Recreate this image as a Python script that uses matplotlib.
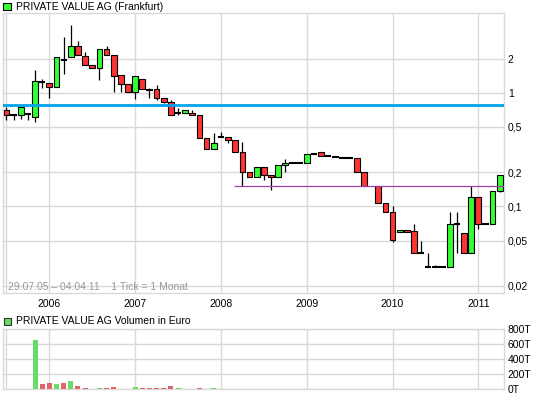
import numpy as np
import pandas as pd
import matplotlib
matplotlib.use("Agg")
import matplotlib.pyplot as plt
from matplotlib.patches import Rectangle
from matplotlib.ticker import NullLocator

plt.rcParams['font.family'] = ['Liberation Sans', 'DejaVu Sans']

# monthly candles, Jul 2005 .. Apr 2011 (Oct 2009 without trades)
months = pd.period_range("2005-07", "2011-04", freq="M")

opens = [0.711, 0.635, 0.639, 0.655, 0.613, 1.25, 1.226, 1.13, 2.0, 2.05,
         2.58, 2.10, 1.77, 1.66, 2.45, 2.14, 1.42, 1.20, 1.02, 1.33,
         1.05, 1.08, 0.90, 0.833, 0.66, 0.669, 0.665, 0.64, 0.40, 0.319,
         0.405, 0.408, 0.384, 0.30, 0.20, 0.181, 0.221, 0.188, 0.181, 0.231,
         0.243, 0.243, 0.243, 0.29, 0.30, 0.279, 0.27, 0.266, 0.266, 0.266,
         0.20, np.nan, 0.15, 0.108, 0.0885, 0.060, 0.0626, 0.0604, 0.0392, 0.0292,
         0.0292, 0.0292, 0.0292, 0.0693, 0.0589, 0.0392, 0.12, 0.0693, 0.0693, 0.1375]
highs = [0.752, 0.640, 0.770, 0.660, 1.575, 1.31, 1.23, 2.08, 3.07, 3.94,
         2.85, 2.30, 1.77, 2.45, 2.58, 2.14, 1.42, 1.20, 1.39, 1.33,
         1.11, 1.18, 0.90, 0.87, 0.737, 0.707, 0.71, 0.64, 0.40, 0.442,
         0.45, 0.408, 0.384, 0.365, 0.20, 0.221, 0.221, 0.188, 0.231, 0.26,
         0.243, 0.243, 0.29, 0.29, 0.30, 0.279, 0.27, 0.266, 0.266, 0.266,
         0.20, np.nan, 0.15, 0.108, 0.10, 0.0626, 0.0626, 0.0695, 0.0496, 0.039,
         0.0305, 0.0292, 0.0885, 0.0885, 0.0589, 0.15, 0.12, 0.071, 0.1375, 0.188]
lows = [0.580, 0.580, 0.589, 0.570, 0.549, 1.09, 0.89, 1.13, 1.45, 2.05,
        2.14, 1.77, 1.66, 1.29, 2.14, 1.01, 1.01, 1.02, 0.885, 1.07,
        0.90, 0.855, 0.82, 0.639, 0.634, 0.669, 0.64, 0.40, 0.319, 0.319,
        0.405, 0.361, 0.30, 0.151, 0.181, 0.181, 0.171, 0.138, 0.181, 0.20,
        0.243, 0.243, 0.243, 0.29, 0.279, 0.279, 0.27, 0.266, 0.266, 0.20,
        0.15, np.nan, 0.108, 0.0885, 0.049, 0.060, 0.060, 0.0392, 0.0392, 0.0292,
        0.0292, 0.0292, 0.0292, 0.039, 0.0392, 0.0392, 0.0634, 0.0693, 0.0693, 0.133]
closes = [0.639, 0.635, 0.752, 0.655, 1.26, 1.25, 1.13, 2.08, 1.94, 2.58,
          2.14, 1.77, 1.66, 2.45, 2.14, 1.41, 1.20, 1.02, 1.39, 1.07,
          1.05, 0.90, 0.833, 0.639, 0.66, 0.707, 0.64, 0.40, 0.319, 0.361,
          0.405, 0.386, 0.30, 0.20, 0.181, 0.221, 0.189, 0.181, 0.231, 0.243,
          0.243, 0.243, 0.29, 0.29, 0.279, 0.279, 0.27, 0.266, 0.266, 0.20,
          0.15, np.nan, 0.108, 0.0885, 0.0503, 0.0626, 0.060, 0.0392, 0.0392, 0.0292,
          0.0292, 0.0292, 0.0693, 0.0693, 0.0392, 0.120, 0.0693, 0.0693, 0.1375, 0.188]
# volume in thousand euro
volumes = [0, 0, 0, 0, 657, 75, 88, 75, 88, 115,
           44, 18, 0, 18, 18, 35, 0, 0, 31, 18,
           18, 18, 18, 48, 18, 0, 0, 18, 0, 18] + [0] * 40

resistance = 0.783
support = 0.150
price_ticks = [0.02, 0.05, 0.1, 0.2, 0.5, 1, 2]
price_labels = ["0,02", "0,05", "0,1", "0,2", "0,5", "1", "2"]
vol_ticks = [0, 200, 400, 600, 800]
vol_labels = ["0T", "200T", "400T", "600T", "800T"]

GREEN = "#33ff33"
RED = "#ff3333"
VGREEN = "#66dd66"
VRED = "#dd6666"
GRID = "#d9d9d9"

W, H = 545, 398
x = np.arange(len(months))
year_pos = [i for i, m in enumerate(months) if m.month == 1]
year_lab = [str(months[i].year) for i in year_pos]
xlim = (-0.52, 69.55)


def style_axes(ax):
    ax.set_xlim(*xlim)
    ax.set_xticks(year_pos)
    ax.yaxis.tick_right()
    ax.tick_params(length=0, labelsize=7.5, pad=3)
    ax.grid(True, color=GRID, lw=1.0)
    ax.axvline(0, color=GRID, lw=1.0, zorder=0)
    ax.set_axisbelow(True)
    for s in ax.spines.values():
        s.set_color(GRID)
        s.set_linewidth(1.0)


fig = plt.figure(figsize=(W / 100, H / 100), dpi=100)

# price panel
ax = fig.add_axes([2.7 / W, 1 - 293 / H, 501 / W, 280 / H])
ax.set_yscale('log')
ax.set_ylim(0.0173, 5.03)
style_axes(ax)
ax.set_yticks(price_ticks)
ax.set_yticklabels(price_labels)
ax.yaxis.set_minor_locator(NullLocator())
ax.set_xticklabels(year_lab)
ax.tick_params(axis='x', pad=4)

for i in x:
    o, h, l, c = opens[i], highs[i], lows[i], closes[i]
    if np.isnan(o):
        continue
    ax.vlines(i, l, h, color='black', lw=0.9, zorder=2)
    if o == c:
        ax.hlines(o, i - 0.45, i + 0.45, color='black', lw=1.5, zorder=3)
    else:
        ax.bar(i, abs(c - o), bottom=min(o, c), width=0.8,
               color=GREEN if c > o else RED, edgecolor='black', lw=0.8, zorder=3)

ax.axhline(resistance, color="#00a2e8", lw=2.0, zorder=4)
ax.hlines(support, 31.8, xlim[1], color="#a040a8", lw=0.9, zorder=4)

ax.text(0.01, 0.022, "29.07.05 \u2013 04.04.11    1 Tick = 1 Monat", transform=ax.transAxes,
        color="#999999", fontsize=7.5, va='center')

# volume panel
vax = fig.add_axes([2.7 / W, 1 - 389.3 / H, 501 / W, 60 / H])
vax.set_ylim(0, 800)
style_axes(vax)
vax.set_yticks(vol_ticks)
vax.set_yticklabels(vol_labels)
vax.set_xticklabels([])
prev = [np.nan] + closes[:-1]
vcol = [VRED if c < p else VGREEN for c, p in zip(closes, prev)]
vax.bar(x, volumes, width=0.7, color=vcol, zorder=3)

# headers
fig.text(15.7 / W, 1 - 6.5 / H, "PRIVATE VALUE AG (Frankfurt)", fontsize=7.5, va='center')
fig.patches.append(Rectangle((3.3 / W, 1 - 10.2 / H), 7.2 / W, 7.2 / H, transform=fig.transFigure,
                             facecolor=GREEN, edgecolor='black', lw=0.8))
fig.text(15.6 / W, 1 - 321.5 / H, "PRIVATE VALUE AG Volumen in Euro", fontsize=7.5, va='center')
fig.patches.append(Rectangle((3.5 / W, 1 - 325.2 / H), 7.2 / W, 7.2 / H, transform=fig.transFigure,
                             facecolor=VGREEN, edgecolor='#333333', lw=0.8))

fig.savefig("out.png", dpi=100)
